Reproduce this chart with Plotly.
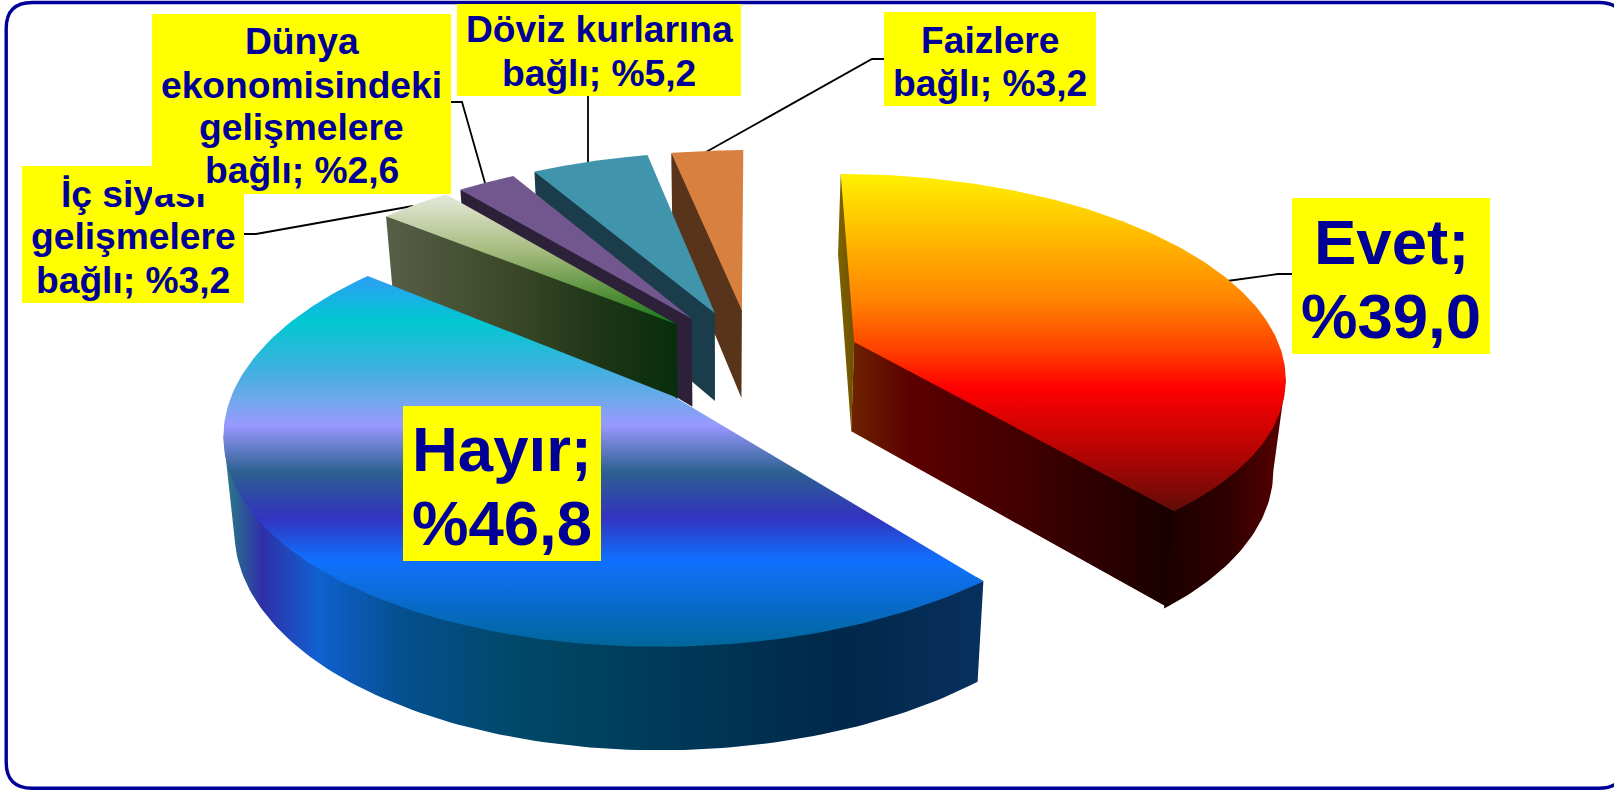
import numpy as np
import plotly.graph_objects as go

# ---------- data ----------
names = ["Evet", "Hayır", "İç siyasi gelişmelere bağlı", "Dünya ekonomisindeki gelişmelere bağlı",
         "Döviz kurlarına bağlı", "Faizlere bağlı"]
values = [39.0, 46.8, 3.2, 2.6, 5.2, 3.2]

label_lines = [["Evet;", "%39,0"], ["Hayır;", "%46,8"], ["İç siyası", "gelişmelere", "bağlı; %3,2"],
               ["Dünya", "ekonomisindeki", "gelişmelere", "bağlı; %2,6"],
               ["Döviz kurlarına", "bağlı; %5,2"], ["Faizlere", "bağlı; %3,2"]]

# ---------- view of the tilted pie ----------
W, H = 1614, 790
CX, CY, FX, GY, PERSP = 752.5, 359.0, 429.5, 199.0, 0.155
EXPLODE = 0.255
DEPTH, DEPTH_P, BOTTOM_K, BOTTOM_VX = 90.0, 0.11, 0.978, 720.0


def top(X, Y):
    d = 1 + PERSP * Y
    return CX + FX * X / d, CY - GY * Y / d


def bottom(X, Y):
    sx, sy = top(X, Y)
    return BOTTOM_VX + BOTTOM_K * (sx - BOTTOM_VX), sy + DEPTH / (1 + DEPTH_P * Y)


def stops(pairs):
    a, b = pairs[0][0], pairs[-1][0]
    return dict(start=a, stop=b, colorscale=[[(p - a) / (b - a), c] for p, c in pairs])


# gradient styles: position on screen, colour
top_style = [
    [(175, "#fff000"), (250, "#ffae00"), (300, "#ff8400"), (350, "#ff4000"), (388, "#ff0000"), (450, "#b80404"), (513, "#5e0c06")],
    [(277, "#2c9ff5"), (322, "#00c8d0"), (370, "#40b0e0"), (400, "#70a8ec"), (425, "#9999ff"), (472, "#2d6090"), (518, "#3333c0"), (560, "#1070ff"), (648, "#006699")],
    [(196, "#e4e8d8"), (250, "#a8bc80"), (300, "#4a8a30"), (325, "#0e7a1c")],
    [(170, "#72578f"), (330, "#72578f")],
    [(150, "#4095ad"), (330, "#4095ad")],
    [(150, "#d88040"), (320, "#d88040")],
]
wall_style = [
    [(1160, "#1a0000"), (1230, "#300000"), (1285, "#5a0000")],
    [(226, "#2a7a88"), (262, "#3030a8"), (318, "#1060d0"), (400, "#055090"), (520, "#004868"), (660, "#003a5a"), (840, "#00284a"), (985, "#08305e")],
    None, None, None, None,
]
face_style = [
    {0: [(835, "#806600"), (855, "#6e5000")], 1: [(849, "#6e2400"), (910, "#5c0000"), (1050, "#3a0000"), (1173, "#180000")]},
    {},
    {0: [(383, "#585f48"), (500, "#3e4a2a"), (600, "#1e3518"), (680, "#062e0a")]},
    {0: [(455, "#2c2138"), (695, "#2c2138")]},
    {0: [(530, "#1b3d4b"), (716, "#1b3d4b")]},
    {0: [(665, "#57341a"), (745, "#57341a")]},
]

# ---------- labels ----------
BLUE = "#000099"
box_px = [(1292, 1490, 198, 354), (403, 601, 406, 561), (22, 244, 166, 303), (152, 451, 14, 194),
          (457, 741, 4, 96), (884, 1096, 12, 106)]
base_px = [[263, 337], [470, 544], [206, 248, 292], [53, 97, 139, 182], [41, 85], [52, 95]]
font_px = [63.5, 63.5, 37.2, 37.2, 37.2, 37.2]
leaders = [[(1227, 281), (1278, 274), (1292, 274)], None, [(244, 234), (256, 234), (413, 206)],
           [(451, 102), (462, 102), (485, 183)], [(588, 96), (588, 163)],
           [(884, 59), (872, 59), (706, 152)]]
LABEL_ORDER = [2, 3, 4, 5, 0, 1]
PAINT_ORDER = [0, 5, 4, 3, 2, 1]
TUCK = 0.02   # how far shared edges slide under the next surface, to avoid pale seams

# ---------- build ----------
fig = go.Figure()
cum = np.concatenate([[0], np.cumsum(values)]) * 3.6


def poly(xs, ys, style, kind):
    g = stops(style)
    fig.add_trace(go.Scatter(x=list(xs), y=list(ys), mode="lines", line=dict(width=0), fill="toself",
                             fillgradient=dict(type=kind, **g), hoverinfo="skip", showlegend=False))


for i, pts in enumerate(leaders):
    if pts:
        fig.add_trace(go.Scatter(x=[p[0] for p in pts], y=[p[1] for p in pts], mode="lines",
                                 line=dict(color="black", width=1.8), hoverinfo="skip", showlegend=False))

for i in PAINT_ORDER:
    a0, a1 = np.radians(cum[i]), np.radians(cum[i + 1])
    mid = (a0 + a1) / 2
    ox, oy = EXPLODE * np.sin(mid), EXPLODE * np.cos(mid)
    th = np.linspace(a0, a1, 161)
    X, Y = ox + np.sin(th), oy + np.cos(th)
    inner_x, inner_y = ox + 0.5 * np.sin(mid), oy + 0.5 * np.cos(mid)
    # cut faces
    for which, style in face_style[i].items():
        rim = a0 if which == 0 else a1
        rx, ry = ox + np.sin(rim), oy + np.cos(rim)
        t0, t1 = top(ox, oy), top(rx, ry)
        b0, b1 = bottom(ox, oy), bottom(rx, ry)
        ia = top(ox + 3 * TUCK * (inner_x - ox), oy + 3 * TUCK * (inner_y - oy))
        ib = top(rx + 3 * TUCK * (inner_x - rx), ry + 3 * TUCK * (inner_y - ry))
        nudge = 2.0 if which == 1 else 0.0
        poly([t0[0], ia[0], ib[0], t1[0] + nudge, b1[0] + nudge, b0[0]],
             [t0[1], ia[1], ib[1], t1[1] - nudge, b1[1] - nudge, b0[1]], style, "horizontal")
    # outer wall: from the rim's silhouette point round the front
    if wall_style[i]:
        sx_all, _ = top(X, Y)
        front = np.degrees(th)
        if cum[i] < 90:
            first = int(np.argmax(sx_all))
            idx = np.arange(first, len(th))
        else:
            last = int(np.argmin(sx_all))
            idx = np.arange(0, last + 1)
        tx, ty = top(X[idx], Y[idx])
        bx, by = bottom(X[idx], Y[idx])
        ix, iy = top(ox + (1 - TUCK) * np.sin(th[idx]), oy + (1 - TUCK) * np.cos(th[idx]))
        poly(np.r_[tx[0], ix, tx[-1], bx[::-1]], np.r_[ty[0], iy, ty[-1], by[::-1]], wall_style[i], "horizontal")
    # top surface
    sx, sy = top(np.r_[ox, X], np.r_[oy, Y])
    poly(sx, sy, top_style[i], "vertical")

annotations = []
for i in LABEL_ORDER:
    x0, x1, y0, y1 = box_px[i]
    annotations.append(dict(x=(x0 + x1) / 2, y=(y0 + y1) / 2, xref="x", yref="y", text="\u00a0", showarrow=False,
                            width=x1 - x0, height=y1 - y0, bgcolor="#ffff00", borderpad=0, borderwidth=0,
                            font=dict(size=10), xanchor="center", yanchor="middle"))
    fs = font_px[i]
    for line, base in zip(label_lines[i], base_px[i]):
        annotations.append(dict(x=(x0 + x1) / 2, y=base - 0.33 * fs, xref="x", yref="y", text=line, showarrow=False,
                                font=dict(family="Liberation Sans", size=fs, color=BLUE, weight=700),
                                xanchor="center", yanchor="middle", borderpad=0))

L, R, T, B, C = 6.2, 1625.0, 2.5, 788.3, 26
frame = (f"M {L + C} {T} L {R - C} {T} Q {R} {T} {R} {T + C} L {R} {B - C} Q {R} {B} {R - C} {B} "
         f"L {L + C} {B} Q {L} {B} {L} {B - C} L {L} {T + C} Q {L} {T} {L + C} {T} Z")

fig.update_layout(
    width=W, height=H, margin=dict(l=0, r=0, t=0, b=0), paper_bgcolor="white", plot_bgcolor="white",
    xaxis=dict(range=[0, W], visible=False, fixedrange=True),
    yaxis=dict(range=[H, 0], visible=False, fixedrange=True),
    shapes=[dict(type="path", path=frame, xref="x", yref="y", line=dict(color=BLUE, width=3.4), layer="below")],
    annotations=annotations, showlegend=False,
)
fig.write_html("out.html", config=dict(displayModeBar=False),
               post_script="document.body.style.margin='0';document.body.style.overflow='hidden';")
